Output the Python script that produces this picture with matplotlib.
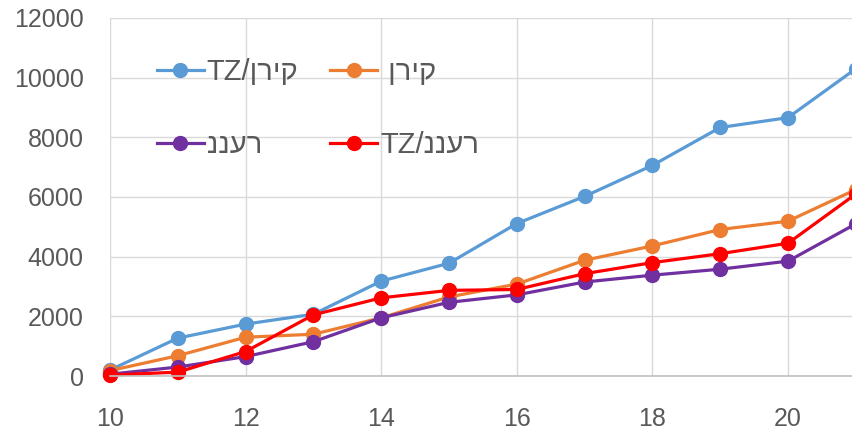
import matplotlib
matplotlib.use("Agg")
import matplotlib.pyplot as plt

plt.rcParams["font.family"] = ["Liberation Sans", "DejaVu Sans"]

# x values (tests) and the four series
x = [10, 11, 12, 13, 14, 15, 16, 17, 18, 19, 20, 21]
kiran_tz = [200, 1270, 1740, 2070, 3180, 3780, 5110, 6020, 7060, 8330, 8660, 10300]
kiran = [180, 680, 1300, 1400, 1950, 2650, 3080, 3880, 4360, 4910, 5190, 6250]
raanan = [60, 300, 650, 1150, 1950, 2470, 2720, 3150, 3380, 3580, 3850, 5100]
raanan_tz = [30, 130, 820, 2050, 2620, 2870, 2900, 3430, 3800, 4100, 4450, 6100]

# legend labels, Hebrew typed in visual order (matplotlib has no bidi)
lab_kiran_tz = "TZ/ןריק"
lab_kiran = " ןריק"
lab_raanan = "ננער"
lab_raanan_tz = "TZ/ננער"

C = dict(blue="#5B9BD5", orange="#ED7D31", purple="#7030A0", red="#FF0000")

X0, PX = 110, 67.8  # pixel of x=10, pixels per unit
fig = plt.figure(figsize=(8.52, 4.29), dpi=100)
ax = fig.add_axes([X0 / 852, 1 - 376 / 429, 1 - X0 / 852, (376 - 18) / 429])

kw = dict(lw=2.3, marker="o", ms=10, clip_on=False)
h1, = ax.plot(x, kiran_tz, color=C["blue"], label=lab_kiran_tz, **kw)
h2, = ax.plot(x, kiran, color=C["orange"], label=lab_kiran, **kw)
h3, = ax.plot(x, raanan, color=C["purple"], label=lab_raanan, **kw)
h4, = ax.plot(x, raanan_tz, color=C["red"], label=lab_raanan_tz, **kw)

ax.set_xlim(10, 10 + (852 - X0) / PX)
ax.set_ylim(0, 12000)
ax.set_xticks(range(10, 21, 2))
ax.set_yticks(range(0, 12001, 2000))
ax.grid(True, color="#D9D9D9", lw=1)
ax.set_axisbelow(True)
for s in ("top", "right", "left"):
    ax.spines[s].set_visible(False)
ax.spines["bottom"].set_color("#BFBFBF")
ax.spines["bottom"].set_linewidth(1.2)
ax.tick_params(length=0, labelsize=18, labelcolor="#595959")
ax.tick_params(axis="x", pad=22)
ax.tick_params(axis="y", pad=19)

ax.legend([h1, h3, h2, h4], [lab_kiran_tz, lab_raanan, lab_kiran, lab_raanan_tz],
          ncol=2, frameon=False, fontsize=21, labelcolor="#595959",
          loc="upper left", bbox_to_anchor=(157 / 852, 1 - 58 / 429),
          bbox_transform=fig.transFigure, borderpad=0, borderaxespad=0,
          handlelength=1.6, handletextpad=0.1, columnspacing=1.1,
          labelspacing=1.55)

fig.savefig("out.png", dpi=100)
